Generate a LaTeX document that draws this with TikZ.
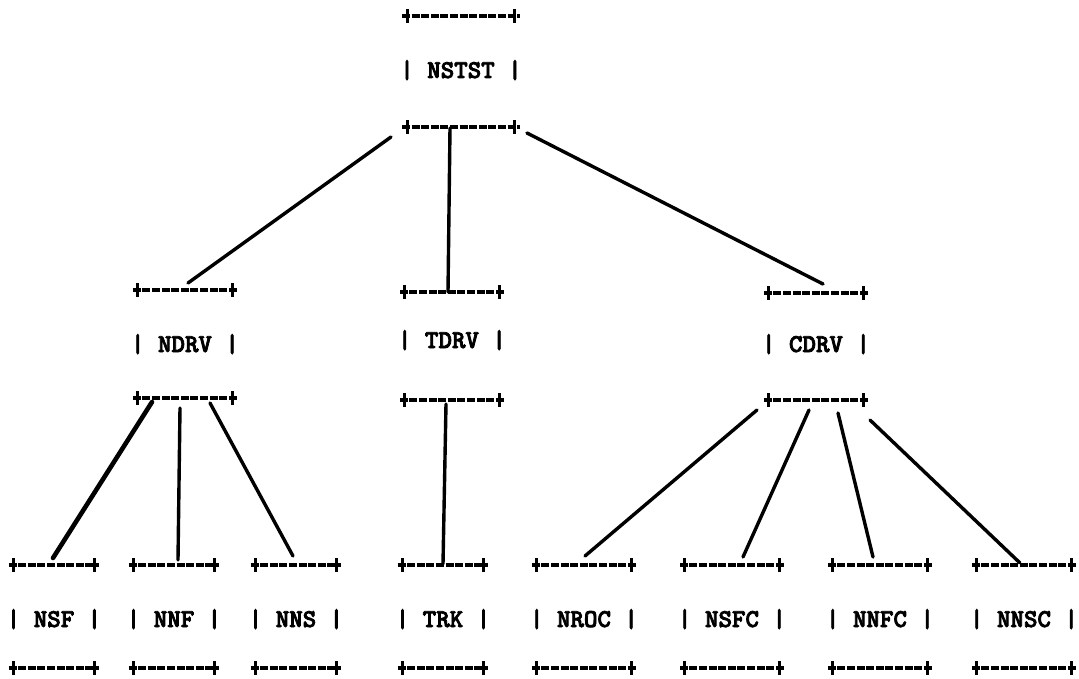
\documentclass[tikz,border=0pt]{standalone}
\usepackage{fontspec}
\usetikzlibrary{calc}

% heavy slab typewriter face for the module labels
\newfontfamily\modfont{lmmonolt10-bold.otf}[FakeBold=3]

% module label; the pipes are part of the text
\tikzset{
  module/.style={inner sep=0pt, outer sep=0pt, anchor=base,
    font=\fontsize{25.7bp}{30bp}\selectfont\modfont},
  rule/.style={line width=3.2bp, dash pattern=on 8bp off 1.6bp},
  tick/.style={line width=3bp},
  link/.style={line width=3.4bp, line cap=round},
  heavylink/.style={link, line width=4.6bp}
}

% top and bottom "+-----+" rules of a module, drawn from its label
\newcommand\modrules[3]{% #1 label node, #2 top rule y, #3 bottom rule y
  \coordinate (#1-t) at (#1.center |- 0,#2);
  \coordinate (#1-b) at (#1.center |- 0,#3);
  \foreach \yy in {#2,#3}{
    \draw[rule] ($(#1.west |- 0,\yy)+(1.75,0)$) -- ($(#1.east |- 0,\yy)+(-1.75,0)$);
    \draw[tick] ($(#1.west |- 0,\yy)+(6.75,-7)$) -- ++(0,14);
    \draw[tick] ($(#1.east |- 0,\yy)+(-6.75,-7)$) -- ++(0,14);
  }}

\begin{document}
\begin{tikzpicture}[x=1bp,y=-1bp]
  \useasboundingbox (0,0) rectangle (1079,679);

  % root
  \node[module] (nstst) at (461,78) {| NSTST |};
  \modrules{nstst}{16}{127}

  % drivers
  \node[module] (ndrv) at (185,352) {| NDRV |};
  \modrules{ndrv}{290}{398}
  \node[module] (tdrv) at (452,348) {| TDRV |};
  \modrules{tdrv}{292}{400}
  \node[module] (cdrv) at (816,352) {| CDRV |};
  \modrules{cdrv}{293}{400}

  % leaf routines
  \node[module] (nsf)  at (54,627)   {| NSF |};
  \node[module] (nnf)  at (174,627)  {| NNF |};
  \node[module] (nns)  at (296,627)  {| NNS |};
  \node[module] (trk)  at (443,627)  {| TRK |};
  \node[module] (nroc) at (584,627)  {| NROC |};
  \node[module] (nsfc) at (732,627)  {| NSFC |};
  \node[module] (nnfc) at (880,627)  {| NNFC |};
  \node[module] (nnsc) at (1024,627) {| NNSC |};
  \foreach \m in {nsf,nnf,nns,trk,nroc,nsfc,nnfc,nnsc}{
    \modrules{\m}{565}{668}
  }

  % calls from the root
  \draw[link] ($(nstst-b)+(-70,10)$) -- ($(ndrv-t)+(3,-7)$);
  \draw[link] ($(nstst-b)+(-11,1)$)  -- ($(tdrv-t)+(-4,0)$);
  \draw[link] ($(nstst-b)+(66,6)$)   -- ($(cdrv-t)+(7,-9)$);

  % calls from NDRV
  \draw[heavylink] ($(ndrv-b)+(-33,4)$) -- ($(nsf-t)+(-1,-7)$);
  \draw[link] ($(ndrv-b)+(-5,10)$) -- ($(nnf-t)+(4,-5)$);
  \draw[link] ($(ndrv-b)+(25,5)$)  -- ($(nns-t)+(-3,-9)$);

  % call from TDRV
  \draw[link] ($(tdrv-b)+(-6,4)$) -- ($(trk-t)+(0,-1)$);

  % calls from CDRV
  \draw[link] ($(cdrv-b)+(-59,10)$) -- ($(nroc-t)+(1,-9)$);
  \draw[link] ($(cdrv-b)+(-7,10)$)  -- ($(nsfc-t)+(11,-8)$);
  \draw[link] ($(cdrv-b)+(22,13)$)  -- ($(nnfc-t)+(-7,-8)$);
  \draw[link] ($(cdrv-b)+(54,20)$)  -- ($(nnsc-t)+(-4,-2)$);
\end{tikzpicture}
\end{document}
